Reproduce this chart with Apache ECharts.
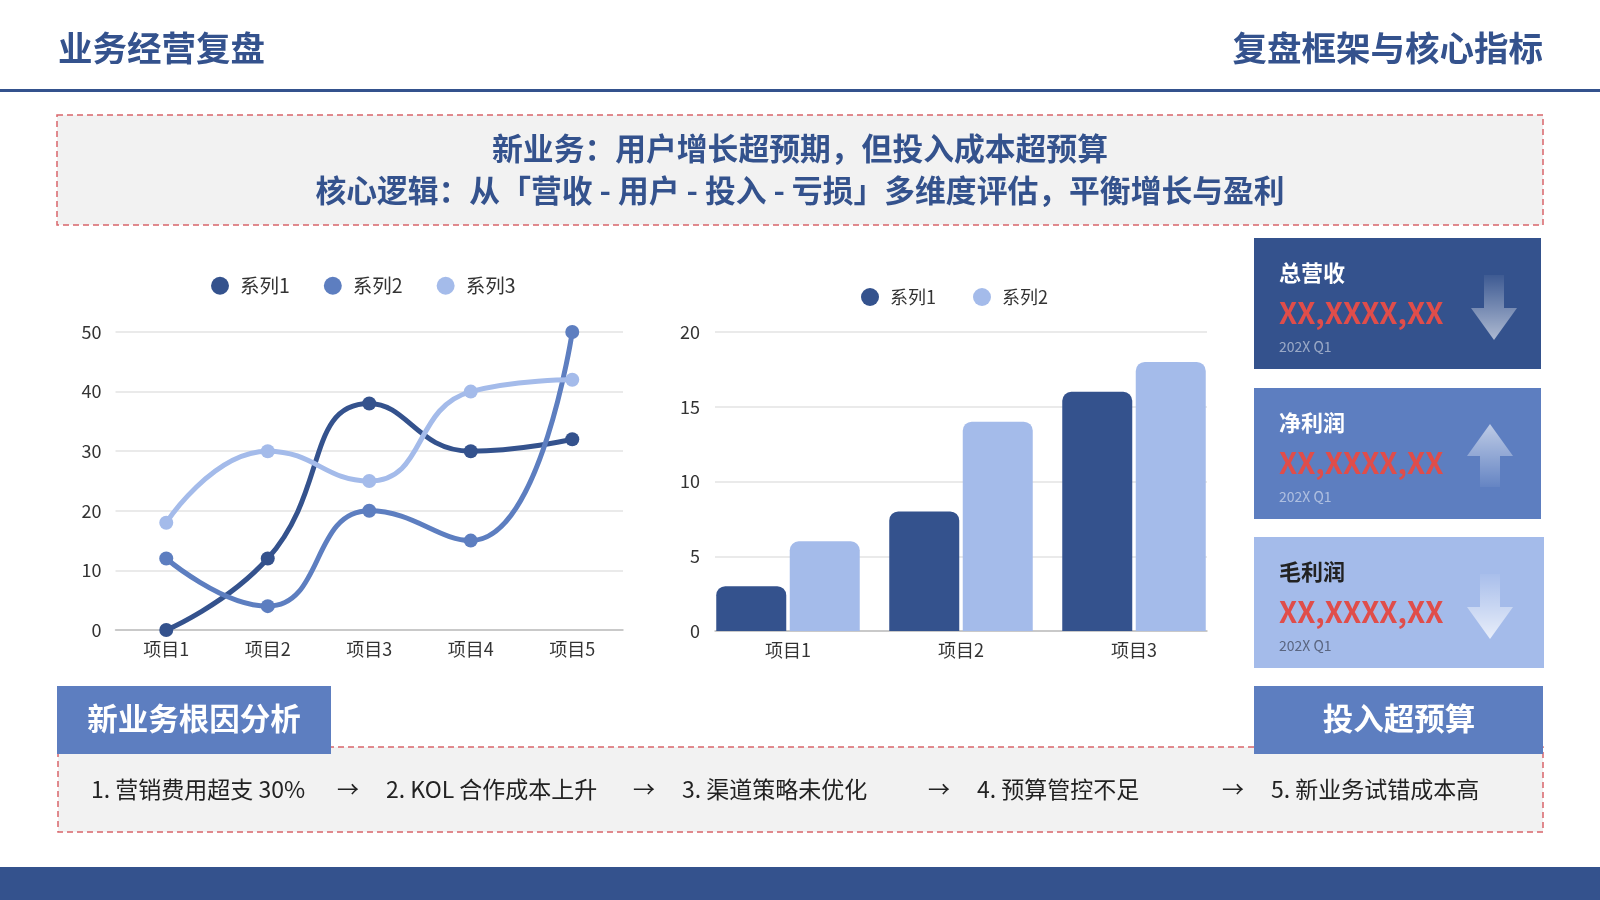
<!DOCTYPE html>
<html>
<head>
<meta charset="utf-8">
<title>业务经营复盘</title>
<script src="https://cdn.jsdelivr.net/npm/echarts@6/dist/echarts.min.js"></script>
<style>
  html, body { margin: 0; padding: 0; background: #fff; }
  #page, #bars { position: absolute; left: 0; top: 0; width: 1600px; height: 900px; }
</style>
</head>
<body>
<div id="page"></div>
<div id="bars"></div>
<script>
const navy = '#34528D';
const mid = '#5D7EC0';
const light = '#A4BBEA';
const red = '#E04D4A';
const boxFill = '#F2F2F2';
const dashRed = '#D9666B';
const fontCn = '"Noto Sans CJK SC", "Noto Sans", sans-serif';

// line chart data
const lineCategories = ['项目1', '项目2', '项目3', '项目4', '项目5'];
const lineSeries1 = [0, 12, 38, 30, 32];
const lineSeries2 = [12, 4, 20, 15, 50];
const lineSeries3 = [18, 30, 25, 40, 42];

// bar chart data
const barCategories = ['项目1', '项目2', '项目3'];
const barSeries1 = [3, 8, 16];
const barSeries2 = [6, 14, 18];

// kpi cards
const kpiTitles = ['总营收', '净利润', '毛利润'];
const kpiValues = ['XX,XXXX,XX', 'XX,XXXX,XX', 'XX,XXXX,XX'];
const kpiPeriods = ['202X Q1', '202X Q1', '202X Q1'];
const kpiTrend = ['down', 'up', 'down'];

// texts
const pageTitle = '业务经营复盘';
const pageSubtitle = '复盘框架与核心指标';
const headline1 = '新业务：用户增长超预期，但投入成本超预算';
const headline2 = '核心逻辑：从「营收 - 用户 - 投入 - 亏损」多维度评估，平衡增长与盈利';
const causeTab = '新业务根因分析';
const resultTab = '投入超预算';
const causes = ['1. 营销费用超支 30%', '2. KOL 合作成本上升', '3. 渠道策略未优化', '4. 预算管控不足', '5. 新业务试错成本高'];

function txt(text, x, y, size, color, weight, align) {
  return {
    type: 'text',
    z: 10,
    style: {
      text: text, x: x, y: y,
      fill: color,
      fontSize: size,
      fontWeight: weight || 'normal',
      fontFamily: fontCn,
      align: align || 'left',
      verticalAlign: 'middle'
    }
  };
}

function rect(x, y, w, h, fill, extra) {
  return Object.assign({
    type: 'rect',
    shape: { x: x, y: y, width: w, height: h },
    style: { fill: fill }
  }, extra || {});
}

function arrow(cx, top, base, tip, dir, strong) {
  const sw = 10, hw = 23;
  const pts = [[cx - sw, top], [cx + sw, top], [cx + sw, base], [cx + hw, base], [cx, tip], [cx - hw, base], [cx - sw, base]];
  const stops = dir === 'down'
    ? [{ offset: 0, color: 'rgba(255,255,255,0.05)' }, { offset: 1, color: 'rgba(255,255,255,' + strong + ')' }]
    : [{ offset: 0, color: 'rgba(255,255,255,' + strong + ')' }, { offset: 1, color: 'rgba(255,255,255,0.05)' }];
  return {
    type: 'polygon',
    z: 5,
    shape: { points: pts },
    style: { fill: new echarts.graphic.LinearGradient(0, 0, 0, 1, stops) }
  };
}

const graphics = [];
// header
graphics.push(txt(pageTitle, 58, 48, 34.5, navy, 'bold'));
graphics.push(txt(pageSubtitle, 1543, 48, 34.5, navy, 'bold', 'right'));
graphics.push(rect(0, 89, 1600, 3, navy));

// headline box
graphics.push(rect(57, 115, 1486, 110, boxFill, {
  style: { fill: boxFill, stroke: dashRed, lineWidth: 1.5, lineDash: [6, 4] }
}));
graphics.push(txt(headline1, 800, 148, 30.8, navy, 'bold', 'center'));
graphics.push(txt(headline2, 800, 190, 30.8, navy, 'bold', 'center'));

// kpi cards
const cardTops = [238, 388, 537];
const cardFills = [navy, mid, light];
const titleColors = ['#FFFFFF', '#FFFFFF', '#222222'];
const periodColors = ['rgba(255,255,255,0.5)', 'rgba(255,255,255,0.5)', '#5A6580'];
const arrowX = [1494, 1490, 1490];
for (let i = 0; i < kpiTitles.length; i++) {
  const t = cardTops[i];
  graphics.push(rect(1254, t, i === 2 ? 290 : 287, 131, cardFills[i]));
  graphics.push(txt(kpiTitles[i], 1279, t + 35, 22, titleColors[i], 'bold'));
  graphics.push(txt(kpiValues[i], 1279, t + 75, 29, red, 'bold'));
  graphics.push(txt(kpiPeriods[i], 1279, t + 109, 14, periodColors[i]));
  if (kpiTrend[i] === 'down') {
    graphics.push(arrow(arrowX[i], t + 37, t + 70, t + 102, 'down', i === 2 ? 0.75 : 0.6));
  } else {
    graphics.push(arrow(arrowX[i], t + 99, t + 68, t + 36, 'up', 0.6));
  }
}

// root-cause band
graphics.push(rect(58, 747, 1485, 85, boxFill, {
  style: { fill: boxFill, stroke: dashRed, lineWidth: 1.5, lineDash: [6, 4] }
}));
graphics.push(rect(57, 686, 274, 68, mid, { z: 6 }));
graphics.push(txt(causeTab, 194, 718, 30.5, '#FFFFFF', 'bold', 'center'));
graphics.push(rect(1254, 686, 289, 68, mid, { z: 6 }));
graphics.push(txt(resultTab, 1399, 718, 30.5, '#FFFFFF', 'bold', 'center'));
const causeX = [91, 386, 682, 977, 1271];
for (let i = 0; i < causes.length; i++) {
  graphics.push(txt(causes[i], causeX[i], 789, 23, '#222222'));
  if (i < causes.length - 1) {
    graphics.push(txt('→', causeX[i + 1] - 38, 789, 22, '#222222', 'normal', 'center'));
  }
}

// footer bar
graphics.push(rect(0, 867, 1600, 33, navy));

const axisText = { fontSize: 18, color: '#333333', fontFamily: fontCn };

const pageChart = echarts.init(document.getElementById('page'));
pageChart.setOption({
  animation: false,
  backgroundColor: '#FFFFFF',
  graphic: graphics,
  color: [navy, mid, light],
  legend: {
    data: ['系列1', '系列2', '系列3'],
    left: 206,
    top: 271,
    icon: 'circle',
    itemWidth: 18,
    itemHeight: 18,
    itemGap: 34,
    textStyle: Object.assign({}, axisText, { fontSize: 19.5, padding: [0, 0, 0, 6] })
  },
  grid: { left: 115.5, top: 332, width: 507.5, height: 298 },
  xAxis: {
    type: 'category',
    data: lineCategories,
    boundaryGap: true,
    axisLine: { lineStyle: { color: '#BFBFBF', width: 1.5 } },
    axisTick: { show: false },
    axisLabel: Object.assign({ margin: 10 }, axisText)
  },
  yAxis: {
    type: 'value',
    min: 0,
    max: 50,
    interval: 10,
    axisLine: { show: false },
    axisTick: { show: false },
    axisLabel: Object.assign({ margin: 14 }, axisText),
    splitLine: { lineStyle: { color: '#E3E3E3', width: 1.5 } }
  },
  series: [
    { name: '系列1', type: 'line', data: lineSeries1 },
    { name: '系列2', type: 'line', data: lineSeries2 },
    { name: '系列3', type: 'line', data: lineSeries3 }
  ].map(function (s, i) {
    return Object.assign(s, {
      smooth: true,
      symbol: 'circle',
      symbolSize: 14,
      lineStyle: { width: 5, color: [navy, mid, light][i] },
      itemStyle: { color: [navy, mid, light][i] }
    });
  })
});

const barChart = echarts.init(document.getElementById('bars'));
barChart.setOption({
  animation: false,
  color: [navy, light],
  legend: {
    data: ['系列1', '系列2'],
    left: 856,
    top: 283,
    icon: 'circle',
    itemWidth: 18,
    itemHeight: 18,
    itemGap: 37,
    textStyle: Object.assign({ padding: [0, 0, 0, 6] }, axisText)
  },
  grid: [
    { left: 715, top: 332, width: 492, height: 299 },
    { left: 701.5, top: 332, width: 519, height: 299 }
  ],
  xAxis: [
    {
      gridIndex: 0,
      type: 'category',
      data: barCategories,
      axisLine: { lineStyle: { color: '#BFBFBF', width: 1.5 } },
      axisTick: { show: false },
      axisLabel: { show: false }
    },
    {
      gridIndex: 1,
      type: 'category',
      data: barCategories,
      axisLine: { show: false },
      axisTick: { show: false },
      axisLabel: Object.assign({ margin: 10 }, axisText)
    }
  ],
  yAxis: [
    {
      gridIndex: 0,
      type: 'value',
      min: 0,
      max: 20,
      interval: 5,
      axisLine: { show: false },
      axisTick: { show: false },
      axisLabel: Object.assign({ margin: 15 }, axisText),
      splitLine: { lineStyle: { color: '#E3E3E3', width: 1.5 } }
    },
    { gridIndex: 1, type: 'value', min: 0, max: 20, show: false }
  ],
  series: [
    { name: '系列1', type: 'bar', xAxisIndex: 1, yAxisIndex: 1, data: barSeries1, barWidth: 70, barGap: '5%',
      itemStyle: { color: navy, borderRadius: [9, 9, 0, 0] } },
    { name: '系列2', type: 'bar', xAxisIndex: 1, yAxisIndex: 1, data: barSeries2, barWidth: 70, barGap: '5%',
      itemStyle: { color: light, borderRadius: [9, 9, 0, 0] } }
  ]
});
</script>
</body>
</html>
